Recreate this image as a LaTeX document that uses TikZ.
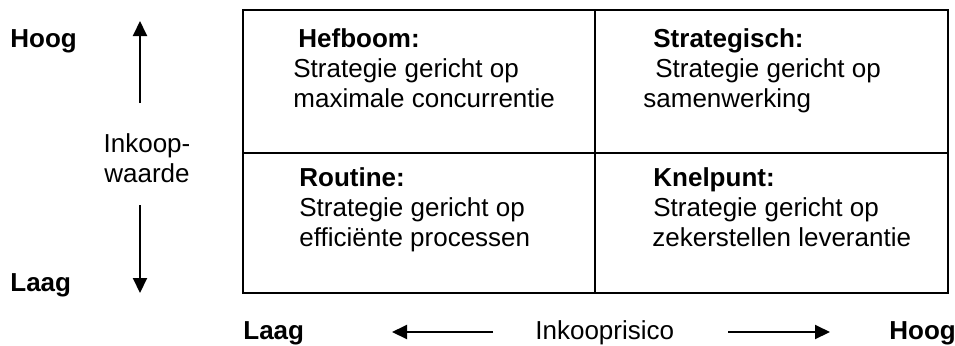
\documentclass[tikz,border=0pt]{standalone}
\usepackage{fontspec}
\setmainfont{Liberation Sans}
\usetikzlibrary{arrows.meta}

\begin{document}
\begin{tikzpicture}[x=0.5pt,y=-0.5pt,>={Triangle[width=7pt,length=7.5pt]},
    font=\fontsize{13}{15}\selectfont,
    cell/.style={anchor=north west,inner sep=0pt,align=left},
    lbl/.style={anchor=base west,inner sep=0pt,font=\fontsize{13}{15}\selectfont\bfseries}]
      \useasboundingbox (0,0) rectangle (955,345);
      % matrix
      \draw[line width=1pt] (243,10) rectangle (948,293);
      \draw[line width=1pt] (595,10) -- (595,293);
      \draw[line width=1pt] (243,153) -- (948,153);
      \node[cell] (hefboom) at (293,28) {\hspace*{2.5pt}\textbf{Hefboom:}\\Strategie gericht op\\maximale concurrentie};
      \node[cell] (strategisch) at (643,28) {\hspace*{5pt}\textbf{Strategisch:}\\\hspace*{6pt}Strategie gericht op\\samenwerking};
      \node[cell] (routine) at (299,167) {\textbf{Routine:}\\Strategie gericht op\\efficiënte processen};
      \node[cell] (knelpunt) at (652,167) {\hspace*{0.5pt}\textbf{Knelpunt:}\\\hspace*{0.5pt}Strategie gericht op\\zekerstellen leverantie};
      % vertical axis
      \node[lbl] (hoogv) at (10,47) {Hoog};
      \node[lbl] (laagv) at (10,291) {Laag};
      \node[anchor=north,inner sep=0pt,align=center] (waarde) at (147,133) {Inkoop-\\waarde};
      \coordinate (vtop) at (140,21);
      \coordinate (vtopstart) at (140,103);
      \coordinate (vbot) at (140,293);
      \coordinate (vbotstart) at (140,205);
      \draw[->,line width=1pt] (vtopstart) -- (vtop);
      \draw[->,line width=1pt] (vbotstart) -- (vbot);
      % horizontal axis
      \node[lbl] (laagh) at (243,339) {Laag};
      \node[lbl] (hoogh) at (889,339) {Hoog};
      \node[anchor=base west,inner sep=0pt] (risico) at (535,339) {Inkooprisico};
      \coordinate (hleft) at (392,332);
      \coordinate (hleftstart) at (493,332);
      \coordinate (hright) at (830,332);
      \coordinate (hrightstart) at (728,332);
      \draw[->,line width=1pt] (hleftstart) -- (hleft);
      \draw[->,line width=1pt] (hrightstart) -- (hright);
%      \draw (595,300) node {matrix};
\end{tikzpicture}
\end{document}
